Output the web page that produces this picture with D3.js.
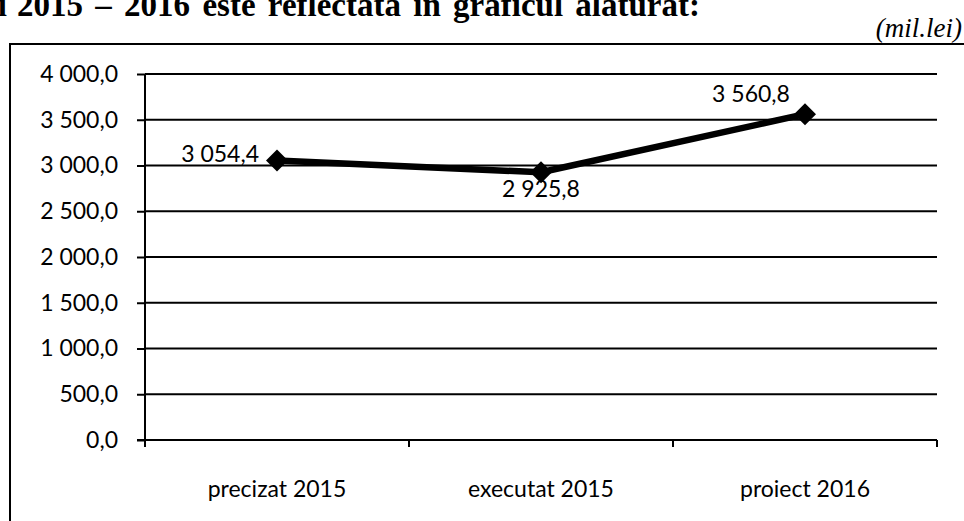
<!DOCTYPE html>
<html>
<head>
<meta charset="utf-8">
<script src="https://cdn.jsdelivr.net/npm/d3@7"></script>
<style>
  html, body { margin: 0; padding: 0; background: #fff; }
  svg { display: block; }
</style>
</head>
<body>
<svg id="chart" width="964" height="521"></svg>
<script>
const categories = ["precizat 2015", "executat 2015", "proiect 2016"];
const values = [3054.4, 2925.8, 3560.8];
const yTicks = [0, 500, 1000, 1500, 2000, 2500, 3000, 3500, 4000];
const unitLabel = "(mil.lei)";
const headerPrefix = "anii";
const headerText = "2015 – 2016 este reflectată în graficul alăturat:";

(function () {
const svg = d3.select("#chart");
const locale = d3.formatLocale({decimal: ",", thousands: " ", grouping: [3], currency: ["", ""]});
const fmt = locale.format(",.1f");

const pL = 145, pR = 937, pT = 74, pB = 440;
const x = d3.scaleBand().domain(categories).range([pL, pR]).padding(0);
const y = d3.scaleLinear().domain([0, 4000]).range([pB, pT]);

// header text (partly cut at top, justified paragraph)
const headFont = {family: "Liberation Serif", weight: "bold", size: 33};
svg.append("text")
  .attr("x", 7).attr("y", 16)
  .attr("text-anchor", "end")
  .attr("font-family", headFont.family).attr("font-weight", headFont.weight)
  .attr("font-size", headFont.size).attr("fill", "#000")
  .text(headerPrefix);
const ht = svg.append("text")
  .attr("x", 17).attr("y", 16)
  .attr("font-family", headFont.family).attr("font-weight", headFont.weight)
  .attr("font-size", headFont.size).attr("fill", "#000")
  .text(headerText);
const natW = ht.node().getComputedTextLength();
const gaps = headerText.split(" ").length - 1;
ht.attr("word-spacing", Math.max(0, (683 - natW) / gaps));

// unit label
svg.append("text")
  .attr("x", 962).attr("y", 37)
  .attr("text-anchor", "end")
  .attr("font-family", "Liberation Serif")
  .attr("font-style", "italic")
  .attr("font-size", 27)
  .attr("fill", "#000")
  .text(unitLabel);

// frame
svg.append("path")
  .attr("d", "M10,521 L10,44 L964,44")
  .attr("fill", "none").attr("stroke", "#000").attr("stroke-width", 2);

// gridlines
svg.append("g").selectAll("line").data(yTicks.filter(d => d > 0)).join("line")
  .attr("x1", pL).attr("x2", pR)
  .attr("y1", d => y(d)).attr("y2", d => y(d))
  .attr("stroke", "#000").attr("stroke-width", 2);

// y axis
const yAxis = svg.append("g")
  .attr("transform", `translate(${pL},0)`)
  .call(d3.axisLeft(y).tickValues(yTicks).tickFormat(fmt).tickSize(8).tickPadding(19));
yAxis.select(".domain").attr("stroke-width", 2).attr("d", `M0,${pT}V${pB + 7}`);
yAxis.selectAll(".tick line").attr("stroke-width", 2);
yAxis.selectAll("text")
  .attr("font-family", "Lato").attr("font-size", 23).attr("fill", "#000");

// x axis
const xAxis = svg.append("g")
  .attr("transform", `translate(0,${pB})`);
xAxis.append("line").attr("x1", pL - 8).attr("x2", pR)
  .attr("stroke", "#000").attr("stroke-width", 2);
const bounds = categories.map(c => x(c)).concat([x(categories[categories.length - 1]) + x.bandwidth()]);
xAxis.selectAll("line.t").data(bounds).join("line").attr("class", "t")
  .attr("x1", d => d).attr("x2", d => d).attr("y1", 0).attr("y2", 7)
  .attr("stroke", "#000").attr("stroke-width", 2);
xAxis.selectAll("text").data(categories).join("text")
  .attr("x", d => x(d) + x.bandwidth() / 2)
  .attr("y", 57)
  .attr("text-anchor", "middle")
  .attr("font-family", "Lato").attr("font-size", 23).attr("fill", "#000")
  .text(d => d);

// line
const pts = categories.map((c, i) => ({c, v: values[i]}));
const line = d3.line().x(d => x(d.c) + x.bandwidth() / 2).y(d => y(d.v));
svg.append("path").datum(pts)
  .attr("d", line)
  .attr("fill", "none").attr("stroke", "#000").attr("stroke-width", 6.5)
  .attr("stroke-linejoin", "round");

// markers
svg.append("g").selectAll("path").data(pts).join("path")
  .attr("transform", d => `translate(${x(d.c) + x.bandwidth() / 2},${y(d.v)})`)
  .attr("d", "M0,-11L11,0L0,11L-11,0Z")
  .attr("fill", "#000");

// data labels
const labelPos = [
  {dx: -18, dy: 1, anchor: "end"},
  {dx: 0, dy: 25, anchor: "middle"},
  {dx: -54, dy: -12, anchor: "middle"}
];
svg.append("g").selectAll("text").data(pts).join("text")
  .attr("x", (d, i) => x(d.c) + x.bandwidth() / 2 + labelPos[i].dx)
  .attr("y", (d, i) => y(d.v) + labelPos[i].dy)
  .attr("text-anchor", (d, i) => labelPos[i].anchor)
  .attr("font-family", "Lato").attr("font-size", 23).attr("fill", "#000")
  .text(d => fmt(d.v));
})();
</script>
</body>
</html>
